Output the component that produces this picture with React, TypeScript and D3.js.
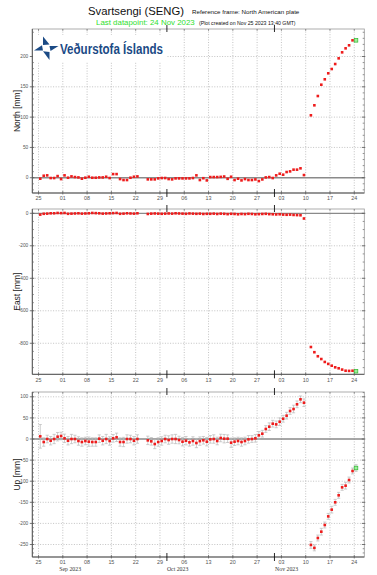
import React from "react";
import * as d3 from "d3";

// ---- data ----
const dates = [
  "2023-08-25","2023-08-26","2023-08-27","2023-08-28","2023-08-29","2023-08-30","2023-08-31",
  "2023-09-01","2023-09-02","2023-09-03","2023-09-04","2023-09-05","2023-09-06","2023-09-07","2023-09-08",
  "2023-09-09","2023-09-10","2023-09-11","2023-09-12","2023-09-13","2023-09-14","2023-09-15","2023-09-16",
  "2023-09-17","2023-09-18","2023-09-19","2023-09-20","2023-09-21","2023-09-22",
  "2023-09-25","2023-09-26","2023-09-27","2023-09-28","2023-09-29","2023-09-30",
  "2023-10-01","2023-10-02","2023-10-03","2023-10-04","2023-10-05","2023-10-06","2023-10-07","2023-10-08",
  "2023-10-09","2023-10-10","2023-10-11","2023-10-12","2023-10-13","2023-10-14","2023-10-15","2023-10-16",
  "2023-10-17","2023-10-18","2023-10-19","2023-10-20","2023-10-21","2023-10-22","2023-10-23","2023-10-24",
  "2023-10-25","2023-10-26","2023-10-27","2023-10-28","2023-10-29","2023-10-30","2023-10-31",
  "2023-11-01","2023-11-02","2023-11-03","2023-11-04","2023-11-05","2023-11-06","2023-11-07","2023-11-08","2023-11-09",
  "2023-11-11","2023-11-12","2023-11-13","2023-11-14","2023-11-15","2023-11-16","2023-11-17","2023-11-18",
  "2023-11-19","2023-11-20","2023-11-21","2023-11-22","2023-11-23","2023-11-24",
];

const north = [
  -1.6, 3.3, 3.9, -0.5, -0.5, 2.7, -2.2, 3.9, 0, 2.2, 1.1, 0.5, -1.6, 0, 1.6, 0, 0, 0.5, 0.5, 1.6, -0.5, 6, 6, -2.2, -3.8, -3.8, 0, 1.6, 2.2,
  -2.7, -2.7, -2.7, -1.1, -0.5, -0.5, -2.2, -2.7, -1.1, -1.1, -1.1, -1.1, -1.1, -0.5, 3.9, -3.8, -0.8, -4.4,
  1.1, 1.1, 1.1, 1.4, 2.0, -1.8, 1.6, -3.8, -1.6, -4.4, -2.2, -3.8, -3.8, -2.8, -5.5, -2.8, 0.5, 1.1, -0.5, 3.9, 6.6, 5, 9.4, 10.5, 13.3, 13.3, 15.5, 4.4,
  103, 119.5, 134.8, 153.5, 162.4, 172.3, 179.4, 187.6, 197, 206.9, 213.5, 218.5, 226.7, 226.7,
];

const east = [
  -8, -3, -2, 0, 0, 2, 1, 2, -3, -2, -1, 0, -2, -1, 0, 2, 1, 0, -2, -1, 0, 1, 2, -3, -2, 0, -1, -2, 0,
  -4, -2, -1, -2, -3, -2, -1, -2, 0, -1, -2, -3, -1, -2, -3, -2, -4, -3,
  -3, -2, -4, -2, -3, -5, -3, -4, -6, -4, -5, -3, -4, -6, -5, -4, -3, -5, -6, -7, -6, -8, -9, -8, -10, -11, -12, -32,
  -823, -855, -880, -897, -915, -927, -938, -948, -954, -962, -969, -970, -969, -972,
];

const up = [
  6.3, -7.1, 0, -4, 0, 5.5, 7.1, 1.6, -4, 0, 0, -4.7, -7.1, -4.7, -6.3, -7.1, -7.1, 0.8, -4, 0, -4.7, 1.6, 4, -7.1, -7.1, 0, 0, -4, 0,
  -3.2, -5.5, -11.9, -7.1, -4.7, 0, -2.4, 0, 0, -2.4, -6.3, -4, -7.9, -4.7, -9.5, -5, -3, -6.3,
  -0.8, 0, -4.7, 2.4, 0.8, 0.8, -8.7, -6.3, -4.7, -7.1, -4.7, -0.8, 0, 1.6, 8.7, 12.6, 23.7, 29.2, 36.3, 34.7, 41, 48, 55.3, 66.4, 71.1, 82.2, 94, 86,
  -251, -258, -234.6, -219.6, -203.8, -183.3, -167.4, -150, -133.4, -114.5, -110.6, -97.2, -75.8, -68.7,
];

const upErr = [
  28, 10, 9, 10, 11, 10, 9, 10, 10, 11, 9, 10, 10, 9, 11, 10, 10, 9, 10, 11, 10, 9, 10, 10, 11, 10, 9, 10, 10,
  10, 9, 11, 10, 10, 9, 10, 10, 11, 9, 10, 10, 9, 10, 11, 10, 9, 10,
  9, 10, 9, 9, 10, 9, 11, 9, 9, 10, 9, 9, 8, 9, 9, 8, 8, 9, 8, 8, 9, 8, 8, 8, 9, 8, 8, 9,
  8, 7, 7, 8, 7, 7, 8, 7, 7, 7, 8, 7, 7, 8,
];

const tickDates = [
  "2023-08-25","2023-09-01","2023-09-08","2023-09-15","2023-09-22","2023-09-29","2023-10-06",
  "2023-10-13","2023-10-20","2023-10-27","2023-11-03","2023-11-10","2023-11-17","2023-11-24",
];
const monthStarts = ["2023-10-01", "2023-11-01"];
const monthLabels = ["Sep 2023", "Oct 2023", "Nov 2023"];
const monthLabelAt = ["2023-09-03T03:00:00Z", "2023-10-04T02:00:00Z", "2023-11-04T12:00:00Z"];

const panelNames = ["North [mm]", "East [mm]", "Up [mm]"];

// ---- layout ----
const W = 377, H = 575;
const X0 = 32.3, X1 = 364.3;
const FONT = "'Liberation Sans', Arial, sans-serif";

const parse = (s: string) => new Date(s.length === 10 ? s + "T12:00:00Z" : s);
const parseDay = (s: string) => new Date(s + "T00:00:00Z");

const x = d3
  .scaleUtc()
  .domain([new Date(Date.UTC(2023, 7, 23, 5, 0)), new Date(Date.UTC(2023, 10, 26, 21, 20))])
  .range([X0, X1]);

type PanelCfg = {
  name: string;
  top: number;
  bottom: number;
  domain: [number, number];
  major: number;
  minor: number;
  values: number[];
  err?: number[];
};

const panels: PanelCfg[] = [
  { name: panelNames[0], top: 29, bottom: 193, domain: [-25.2, 245.4], major: 50, minor: 10, values: north },
  { name: panelNames[1], top: 209, bottom: 374.3, domain: [-991, 26.5], major: 200, minor: 50, values: east },
  { name: panelNames[2], top: 392, bottom: 557, domain: [-279.6, 111.4], major: 50, minor: 10, values: up, err: upErr },
];

function Panel({ p }: { p: PanelCfg }) {
  const y = d3.scaleLinear().domain(p.domain).range([p.bottom, p.top]);
  const majors = d3.range(Math.ceil(p.domain[0] / p.major) * p.major, p.domain[1] + 1e-9, p.major);
  const minors = d3
    .range(Math.ceil(p.domain[0] / p.minor) * p.minor, p.domain[1] + 1e-9, p.minor)
    .filter((v) => Math.abs(v / p.major - Math.round(v / p.major)) > 1e-6);
  const n = p.values.length;
  const fmt = d3.utcFormat("%d");
  const mid = (p.top + p.bottom) / 2;
  return (
    <g>
      {/* grid */}
      {majors.filter((v) => v !== 0).map((v) => (
        <line key={"gh" + v} x1={X0} x2={X1} y1={y(v)} y2={y(v)} stroke="#b4b4b4" strokeWidth={0.8} strokeDasharray="1,1.6" />
      ))}
      {tickDates.map((t) => (
        <line key={"gv" + t} x1={x(parseDay(t))} x2={x(parseDay(t))} y1={p.top} y2={p.bottom} stroke="#b4b4b4" strokeWidth={0.8} strokeDasharray="1,1.6" />
      ))}
      {/* zero line */}
      <line x1={X0} x2={X1} y1={y(0)} y2={y(0)} stroke="#8a8a8a" strokeWidth={1.3} />
      {/* frame */}
      <rect x={X0} y={p.top} width={X1 - X0} height={p.bottom - p.top} fill="none" stroke="#9a9a9a" strokeWidth={0.8} />
      <line x1={X0} x2={X0} y1={p.top} y2={p.bottom} stroke="#555" strokeWidth={1} />
      <line x1={X0} x2={X1} y1={p.bottom} y2={p.bottom} stroke="#555" strokeWidth={1} />
      {/* y ticks */}
      {majors.map((v) => (
        <g key={"ym" + v}>
          <line x1={X0 - 2.5} x2={X0 + 2} y1={y(v)} y2={y(v)} stroke="#555" strokeWidth={0.8} />
          <line x1={X1 - 2.5} x2={X1 + 1} y1={y(v)} y2={y(v)} stroke="#555" strokeWidth={0.8} />
          <text x={X0 - 4} y={y(v)} dy="0.35em" fontSize={4.8} fill="#555" textAnchor="end" fontFamily={FONT}>
            {v}
          </text>
        </g>
      ))}
      {minors.map((v) => (
        <g key={"yn" + v}>
          <line x1={X0} x2={X0 + 1.6} y1={y(v)} y2={y(v)} stroke="#666" strokeWidth={0.7} />
          <line x1={X1 - 1.6} x2={X1} y1={y(v)} y2={y(v)} stroke="#666" strokeWidth={0.7} />
        </g>
      ))}
      {/* x ticks */}
      {tickDates.map((t) => (
        <g key={"xt" + t}>
          <line x1={x(parseDay(t))} x2={x(parseDay(t))} y1={p.bottom - 2} y2={p.bottom + 1.5} stroke="#555" strokeWidth={0.7} />
          <line x1={x(parseDay(t))} x2={x(parseDay(t))} y1={p.top} y2={p.top + 2} stroke="#777" strokeWidth={0.7} />
          <text x={x(parseDay(t))} y={p.bottom + 7.2} fontSize={5.4} fill="#555" textAnchor="middle" fontFamily={FONT}>
            {fmt(parseDay(t))}
          </text>
        </g>
      ))}
      {monthStarts.map((m) => (
        <g key={"ms" + m}>
          <line x1={x(parseDay(m))} x2={x(parseDay(m))} y1={p.bottom - 4} y2={p.bottom + 4} stroke="#111" strokeWidth={0.9} />
          <line x1={x(parseDay(m))} x2={x(parseDay(m))} y1={p.top - 4} y2={p.top + 3} stroke="#111" strokeWidth={0.9} />
        </g>
      ))}
      {/* error bars */}
      {p.err &&
        p.values.map((v, i) => {
          const cx = x(parse(dates[i]));
          const e = p.err![i];
          return (
            <g key={"e" + i} stroke="#b8b8b8" strokeWidth={0.7}>
              <line x1={cx} x2={cx} y1={y(v - e)} y2={y(v + e)} />
              <line x1={cx - 1.6} x2={cx + 1.6} y1={y(v - e)} y2={y(v - e)} />
              <line x1={cx - 1.6} x2={cx + 1.6} y1={y(v + e)} y2={y(v + e)} />
            </g>
          );
        })}
      {/* points */}
      {p.values.map((v, i) => {
        const cx = x(parse(dates[i]));
        const cy = y(v);
        if (i === n - 1) {
          return <rect key={"p" + i} x={cx - 1.8} y={cy - 1.8} width={3.6} height={3.6} fill="#9df09d" stroke="#2fb52f" strokeWidth={0.7} />;
        }
        return <rect key={"p" + i} x={cx - 1.3} y={cy - 1.3} width={2.6} height={2.6} fill="#ee1c1c" />;
      })}
      {/* axis title */}
      <text
        transform={`translate(19.5,${mid}) rotate(-90)`}
        textAnchor="middle"
        fontSize={8.5}
        fill="#222"
        fontFamily={FONT}
      >
        {p.name}
      </text>
    </g>
  );
}

function Logo() {
  const blue = "#1b4a85";
  return (
    <g>
      <rect x={33} y={35} width={133} height={27} fill="#fff" />
      <polygon points="43,36.5 49.5,44.5 43,45" fill={blue} />
      <polygon points="58.5,46 49.5,46 50.5,51" fill={blue} />
      <polygon points="49.5,60 49.5,52 43,51.2" fill={blue} />
      <polygon points="34,50.5 43,50.5 42,45.2" fill={blue} />
      <text x={60} y={54} fontSize={14} fontWeight={600} fill={blue} fontFamily={FONT} textLength={103} lengthAdjust="spacingAndGlyphs">
        Veðurstofa Íslands
      </text>
    </g>
  );
}

export default function App() {
  return (
    <svg width={W} height={H} style={{ position: "absolute", left: 0, top: 0, background: "#fff" }} xmlns="http://www.w3.org/2000/svg">
      <rect width={W} height={H} fill="#fff" />
      <text x={88} y={14.5} fontSize={11.3} fill="#111" fontFamily={FONT}>
        Svartsengi (SENG)
      </text>
      <text x={192} y={13.5} fontSize={6.2} fill="#111" fontFamily={FONT}>
        Reference frame:  North American plate
      </text>
      <text x={96} y={25} fontSize={7.9} fill="#2ee02e" fontFamily={FONT}>
        Last datapoint: 24 Nov 2023
      </text>
      <text x={199} y={24.5} fontSize={5.2} fill="#111" fontFamily={FONT}>
        (Plot created on Nov 25 2023 13:40 GMT)
      </text>
      {panels.map((p) => (
        <Panel key={p.name} p={p} />
      ))}
      {monthLabels.map((m, i) => (
        <text key={m} x={x(new Date(monthLabelAt[i]))} y={571} fontSize={5.8} fill="#333" textAnchor="middle" fontFamily="'Liberation Serif', 'DejaVu Serif', serif">
          {m}
        </text>
      ))}
      <Logo />
    </svg>
  );
}
